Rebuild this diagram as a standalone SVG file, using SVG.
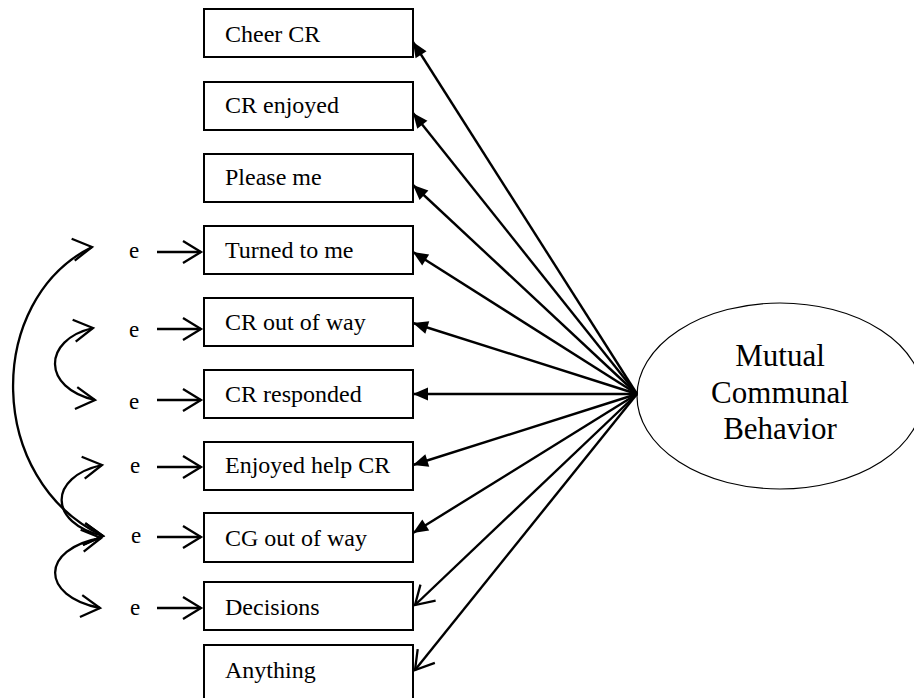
<svg xmlns="http://www.w3.org/2000/svg" width="914" height="698" viewBox="0 0 914 698">
  <defs>
    <style>
      .box rect { fill: #fff; stroke: #000; stroke-width: 2; }
      .box text { font-family: "Liberation Serif", "Times New Roman", serif; font-size: 24px; fill: #000; }
      .err { font-family: "Liberation Serif", "Times New Roman", serif; font-size: 23px; fill: #000; }
      .latent ellipse { fill: #fff; stroke: #000; stroke-width: 1.2; }
      .latent text { font-family: "Liberation Serif", "Times New Roman", serif; font-size: 31px; fill: #000; text-anchor: middle; }
      .load { fill: none; stroke: #000; stroke-width: 2.4; }
      .cov { fill: none; stroke: #000; stroke-width: 2.3; }
    </style>
    <!-- solid triangular head for factor loadings -->
    <marker id="solid" markerUnits="userSpaceOnUse" orient="auto" refX="0" refY="0" markerWidth="20" markerHeight="20" overflow="visible">
      <path d="M0,0 L-15,-6.5 L-15,6.5 Z" fill="#000"/>
    </marker>
    <!-- open chevron head, follows the line direction -->
    <marker id="open" markerUnits="userSpaceOnUse" orient="auto" refX="0" refY="0" markerWidth="24" markerHeight="24" overflow="visible">
      <path d="M-18,-11 L0,0 L-18,11" fill="none" stroke="#000" stroke-width="2.3"/>
    </marker>
    <!-- open chevrons on the covariance curves, pointing right -->
    <marker id="chevUp" markerUnits="userSpaceOnUse" orient="-8" refX="0" refY="0" markerWidth="24" markerHeight="24" overflow="visible">
      <path d="M-19,-11 L0,0 L-19,11" fill="none" stroke="#000" stroke-width="2.3"/>
    </marker>
    <marker id="chevDn" markerUnits="userSpaceOnUse" orient="6" refX="0" refY="0" markerWidth="24" markerHeight="24" overflow="visible">
      <path d="M-19,-11 L0,0 L-19,11" fill="none" stroke="#000" stroke-width="2.3"/>
    </marker>
  </defs>

  <rect x="0" y="0" width="914" height="698" fill="#fff"/>

  <!-- observed indicators -->
  <g id="cheer-cr" class="box"><rect x="204" y="9" width="209" height="48"/><text x="225" y="42">Cheer CR</text></g>
  <g id="cr-enjoyed" class="box"><rect x="204" y="82" width="209" height="48"/><text x="225" y="113">CR enjoyed</text></g>
  <g id="please-me" class="box"><rect x="204" y="154" width="209" height="48"/><text x="225" y="185">Please me</text></g>
  <g id="turned-to-me" class="box"><rect x="204" y="226" width="209" height="48"/><text x="225" y="258">Turned to me</text></g>
  <g id="cr-out-of-way" class="box"><rect x="204" y="298" width="209" height="48"/><text x="225" y="330">CR out of way</text></g>
  <g id="cr-responded" class="box"><rect x="204" y="370" width="209" height="48"/><text x="225" y="402">CR responded</text></g>
  <g id="enjoyed-help-cr" class="box"><rect x="204" y="442" width="209" height="48"/><text x="225" y="473">Enjoyed help CR</text></g>
  <g id="cg-out-of-way" class="box"><rect x="204" y="513" width="209" height="49"/><text x="225" y="546">CG out of way</text></g>
  <g id="decisions" class="box"><rect x="204" y="582" width="209" height="48"/><text x="225" y="615">Decisions</text></g>
  <g id="anything" class="box"><rect x="204" y="645" width="209" height="60"/><text x="225" y="678">Anything</text></g>

  <!-- latent factor -->
  <g id="mutual-communal-behavior" class="latent">
    <ellipse cx="780" cy="396" rx="143" ry="93"/>
    <text x="780" y="366">Mutual</text>
    <text x="780" y="403">Communal</text>
    <text x="780" y="439">Behavior</text>
  </g>

  <!-- error terms -->
  <g id="errors">
    <text class="err" x="129" y="258">e</text>
    <text class="err" x="129" y="337">e</text>
    <text class="err" x="129" y="409">e</text>
    <text class="err" x="130" y="473">e</text>
    <text class="err" x="131" y="543">e</text>
    <text class="err" x="130" y="615">e</text>
  </g>

  <g id="connectors">
    <!-- loadings from the factor to each indicator -->
    <g class="load">
      <path d="M637,394 L413,42" marker-end="url(#solid)"/>
      <path d="M637,394 L413,113" marker-end="url(#solid)"/>
      <path d="M637,394 L413,185" marker-end="url(#solid)"/>
      <path d="M637,394 L413,252" marker-end="url(#solid)"/>
      <path d="M637,394 L413,323" marker-end="url(#solid)"/>
      <path d="M637,394 L413,394" marker-end="url(#solid)"/>
      <path d="M637,394 L413,465" marker-end="url(#solid)"/>
      <path d="M637,394 L413,533" marker-end="url(#solid)"/>
      <path d="M637,394 L415,605" marker-end="url(#open)"/>
      <path d="M637,394 L415,670" marker-end="url(#open)"/>
    </g>
    <!-- error to indicator arrows -->
    <g class="load">
      <path d="M157,252 L201,252" marker-end="url(#open)"/>
      <path d="M157,329 L201,329" marker-end="url(#open)"/>
      <path d="M157,400 L201,400" marker-end="url(#open)"/>
      <path d="M157,467 L201,467" marker-end="url(#open)"/>
      <path d="M157,537 L201,537" marker-end="url(#open)"/>
      <path d="M157,608 L201,608" marker-end="url(#open)"/>
    </g>
    <!-- error covariances -->
    <g class="cov">
      <path d="M92,247 C-15,300 -15,480 103,536" marker-start="url(#chevUp)" marker-end="url(#chevDn)"/>
      <path d="M93,328 C42,340 42,388 95,400" marker-start="url(#chevUp)" marker-end="url(#chevDn)"/>
      <path d="M102,465 C48,477 48,523 103,536" marker-start="url(#chevUp)" marker-end="url(#chevDn)"/>
      <path d="M101,538 C40,549 40,596 100,608" marker-start="url(#chevUp)" marker-end="url(#chevDn)"/>
    </g>
  </g>
</svg>
